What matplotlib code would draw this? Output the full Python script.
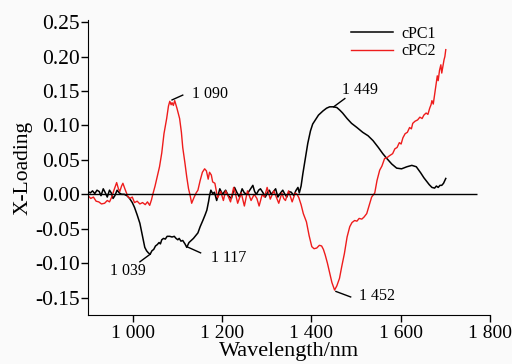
import matplotlib
matplotlib.use("Agg")
import matplotlib.pyplot as plt

# wavelength (nm) and loading values
wl1 = [900, 905, 910, 915, 920, 925, 929, 934, 938, 943, 948, 952, 956, 960, 965, 970, 975, 981, 987, 993,
       999, 1004, 1010, 1016, 1021, 1027, 1031, 1035, 1039, 1043, 1047, 1051, 1055, 1059, 1062, 1065, 1069,
       1073, 1077, 1083, 1088, 1093, 1097, 1101, 1104, 1108, 1112, 1117, 1121, 1126, 1131, 1136, 1141, 1146,
       1151, 1157, 1162, 1166, 1170, 1172, 1175, 1179, 1183, 1188, 1195, 1201, 1208, 1214, 1221, 1228, 1233,
       1239, 1245, 1250, 1256, 1262, 1269, 1273, 1277, 1282, 1286, 1292, 1297, 1302, 1306, 1310, 1314, 1320,
       1325, 1331, 1336, 1340, 1345, 1350, 1355, 1361, 1365, 1370, 1373, 1377, 1381, 1386, 1392, 1398, 1403,
       1408, 1416, 1426, 1434, 1441, 1449, 1457, 1464, 1470, 1480, 1490, 1502, 1515, 1527, 1538, 1550, 1560,
       1569, 1580, 1591, 1602, 1614, 1625, 1635, 1645, 1652, 1658, 1664, 1670, 1676, 1680, 1684, 1688, 1692,
       1696, 1701]
pc1 = [0.004, 0.002, 0.005, 0.001, 0.006, 0.004, -0.002, 0.008, 0.003, -0.004, 0.006, 0.002, -0.006, -0.002,
       0.006, 0.002, 0.000, 0.000, -0.002, -0.006, -0.012, -0.019, -0.030, -0.042, -0.058, -0.077, -0.082,
       -0.085, -0.087, -0.082, -0.080, -0.075, -0.073, -0.070, -0.072, -0.066, -0.064, -0.065, -0.061, -0.061,
       -0.062, -0.061, -0.064, -0.066, -0.064, -0.068, -0.067, -0.072, -0.077, -0.070, -0.067, -0.064, -0.060,
       -0.056, -0.047, -0.038, -0.030, -0.023, -0.010, -0.002, 0.006, 0.001, 0.003, -0.009, 0.008, 0.000,
       0.006, -0.002, -0.006, 0.010, 0.003, -0.004, 0.008, 0.002, 0.000, 0.006, 0.013, 0.004, 0.000, 0.006,
       0.008, 0.002, -0.004, 0.003, 0.006, 0.000, 0.003, 0.008, -0.004, 0.002, 0.006, 0.001, -0.004, 0.004,
       0.003, -0.002, 0.005, 0.010, 0.002, 0.012, 0.030, 0.050, 0.074, 0.092, 0.102, 0.107, 0.115, 0.121,
       0.125, 0.127, 0.127, 0.126, 0.122, 0.118, 0.110, 0.103, 0.097, 0.090, 0.085, 0.078, 0.068, 0.059,
       0.052, 0.044, 0.038, 0.037, 0.040, 0.042, 0.040, 0.031, 0.024, 0.019, 0.014, 0.010, 0.009, 0.012,
       0.010, 0.013, 0.013, 0.016, 0.023]

wl2 = [900, 906, 912, 918, 924, 930, 937, 943, 948, 953, 958, 964, 968, 971, 975, 978, 983, 989, 994, 999,
       1004, 1010, 1016, 1022, 1028, 1033, 1038, 1042, 1045, 1050, 1054, 1060, 1065, 1070, 1076, 1080, 1083,
       1086, 1088, 1091, 1094, 1099, 1105, 1109, 1112, 1117, 1121, 1125, 1128, 1132, 1137, 1142, 1146, 1151,
       1156, 1161, 1165, 1169, 1172, 1176, 1179, 1184, 1190, 1197, 1203, 1208, 1212, 1219, 1226, 1230, 1235,
       1243, 1250, 1257, 1265, 1272, 1278, 1283, 1290, 1295, 1301, 1308, 1316, 1321, 1327, 1334, 1338, 1342,
       1349, 1357, 1364, 1368, 1372, 1377, 1382, 1389, 1395, 1401, 1406, 1412, 1418, 1423, 1427, 1431, 1436,
       1441, 1446, 1452, 1457, 1463, 1468, 1474, 1480, 1486, 1491, 1497, 1502, 1507, 1513, 1518, 1524, 1530,
       1535, 1542, 1547, 1553, 1558, 1564, 1569, 1575, 1582, 1587, 1592, 1597, 1601, 1605, 1610, 1615, 1620,
       1624, 1627, 1632, 1638, 1643, 1648, 1652, 1657, 1661, 1665, 1668, 1670, 1673, 1676, 1679, 1682, 1684,
       1687, 1690, 1692, 1694, 1697, 1699, 1701]
pc2 = [-0.002, -0.006, -0.004, -0.010, -0.011, -0.014, -0.013, -0.009, -0.011, -0.004, 0.006, 0.017, 0.008,
       0.004, 0.012, 0.016, 0.007, -0.003, -0.006, -0.004, -0.012, -0.010, -0.014, -0.012, -0.015, -0.011,
       -0.016, -0.008, 0.000, 0.012, 0.023, 0.040, 0.060, 0.088, 0.110, 0.128, 0.135, 0.130, 0.133, 0.129,
       0.136, 0.125, 0.110, 0.090, 0.068, 0.045, 0.025, 0.008, 0.000, -0.013, -0.005, 0.002, 0.006, 0.020,
       0.032, 0.037, 0.034, 0.022, 0.032, 0.028, 0.018, 0.016, -0.005, 0.004, -0.009, 0.005, 0.000, -0.011,
       0.010, 0.001, -0.013, 0.002, -0.017, 0.005, -0.009, 0.000, -0.006, -0.017, 0.000, -0.004, 0.010,
       -0.007, 0.005, -0.003, -0.013, 0.002, -0.006, -0.009, 0.005, -0.011, 0.002, 0.000, -0.005, -0.015,
       -0.028, -0.040, -0.060, -0.076, -0.079, -0.078, -0.074, -0.075, -0.080, -0.088, -0.100, -0.114,
       -0.128, -0.139, -0.133, -0.122, -0.105, -0.086, -0.062, -0.047, -0.041, -0.038, -0.039, -0.035,
       -0.036, -0.033, -0.028, -0.015, -0.004, 0.002, 0.020, 0.035, 0.041, 0.052, 0.053, 0.056, 0.059,
       0.066, 0.068, 0.075, 0.073, 0.082, 0.088, 0.090, 0.097, 0.095, 0.103, 0.106, 0.108, 0.112, 0.110,
       0.115, 0.118, 0.116, 0.125, 0.130, 0.136, 0.131, 0.145, 0.160, 0.172, 0.165, 0.180, 0.188, 0.176,
       0.184, 0.195, 0.200, 0.210]

# labelled peaks: wavelength, loading at peak
peak_labels = ["1 090", "1 039", "1 117", "1 449", "1 452"]
peak_x = [1088, 1039, 1121, 1450, 1455]
peak_y = [0.137, -0.087, -0.076, 0.127, -0.141]

x_ticks = [1000, 1200, 1400, 1600, 1800]
x_tick_labels = ["1 000", "1 200", "1 400", "1 600", "1 800"]
y_ticks = [-0.15, -0.10, -0.05, 0.00, 0.05, 0.10, 0.15, 0.20, 0.25]

plt.rcParams['font.family'] = ['Liberation Serif', 'DejaVu Serif']

fig = plt.figure(figsize=(5.12, 3.64), dpi=100, facecolor='#fafafa')
ax = fig.add_axes([0.172, 0.135, 0.785, 0.81])
ax.set_facecolor('#fafafa')

ax.plot(wl1, pc1, color='black', lw=1.1, label='cPC1')
ax.plot(wl2, pc2, color='#ee1c1c', lw=1.0, label='cPC2')
ax.hlines(0, 900, 1770, color='black', lw=1.0)

# leader lines (end points relative to each peak) and label positions
line_ends = [(24, 0.007), (-23, -0.011), (31, -0.009), (25, 0.012), (33, -0.008)]
text_pos = [(1172, 0.146), (990, -0.112), (1215, -0.092), (1508, 0.152), (1546, -0.147)]
for lab, px, py, (dx, dy), (tx, ty) in zip(peak_labels, peak_x, peak_y, line_ends, text_pos):
    ax.plot([px, px + dx], [py, py + dy], color='black', lw=1.0)
    ax.text(tx, ty, lab, fontsize=11.5, ha='center', va='center')

ax.set_xlim(900, 1800)
ax.set_ylim(-0.175, 0.253)
ax.set_xticks(x_ticks)
ax.set_xticklabels(x_tick_labels)
ax.set_yticks(y_ticks)
ax.set_yticklabels([f"{v:.2f}" for v in y_ticks])
ax.tick_params(length=5, width=1, direction='out')
ax.tick_params(axis='x', labelsize=14, pad=2)
ax.tick_params(axis='y', labelsize=15.5, pad=1)
ax.spines['top'].set_visible(False)
ax.spines['right'].set_visible(False)

ax.set_xlabel('Wavelength/nm', fontsize=16, labelpad=0)
ax.set_ylabel('X-Loading', fontsize=15.5, labelpad=2)

ax.legend(loc='upper right', bbox_to_anchor=(0.9, 1.03), frameon=False, fontsize=11.5,
          handlelength=2.6, handletextpad=0.5, labelspacing=0.1)

fig.savefig('out.png', dpi=100, facecolor=fig.get_facecolor())
